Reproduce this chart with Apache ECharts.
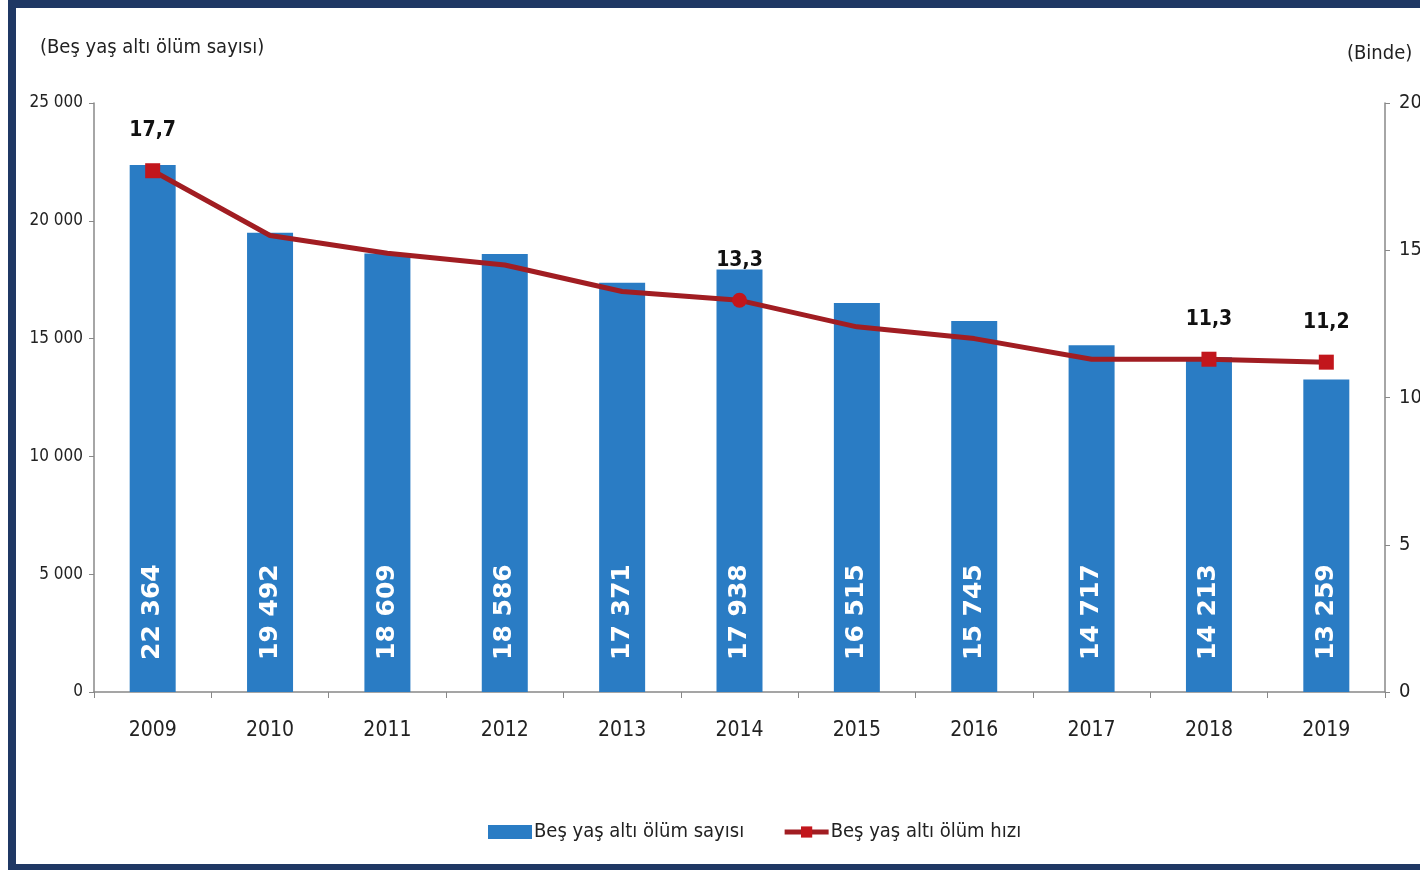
<!DOCTYPE html>
<html>
<head>
<meta charset="utf-8">
<script src="https://cdn.jsdelivr.net/npm/echarts@6/dist/echarts.min.js"></script>
<style>
html,body{margin:0;padding:0;background:#fff;}
#frame{position:absolute;left:8px;top:0;width:1412px;height:870px;box-sizing:border-box;border-left:8px solid #1f3864;border-top:8px solid #1f3864;border-bottom:6px solid #1f3864;}
#chart{position:absolute;left:0;top:0;width:1420px;height:870px;}
</style>
</head>
<body>
<div id="frame"></div>
<div id="chart"></div>
<script>
const years = ['2009','2010','2011','2012','2013','2014','2015','2016','2017','2018','2019'];
const deaths = [22364, 19492, 18609, 18586, 17371, 17938, 16515, 15745, 14717, 14213, 13259];
const rate = [17.7, 15.5, 14.9, 14.5, 13.6, 13.3, 12.4, 12.0, 11.3, 11.3, 11.2];
const labelledYears = ['2009','2014','2018','2019'];
const leftTicks = [0, 5000, 10000, 15000, 20000, 25000];
const rightTicks = [0, 5, 10, 15, 20];

const NARROW = "'Liberation Sans Narrow','DejaVu Sans Condensed','Arial Narrow',sans-serif";
const fmtSpace = v => String(v).replace(/\B(?=(\d{3})+(?!\d))/g, ' ');
const fmtComma = v => v.toFixed(1).replace('.', ',');

const lineData = rate.map((v, i) => {
  const on = labelledYears.includes(years[i]);
  return {
    value: v,
    symbol: on ? (years[i] === '2014' ? 'circle' : 'rect') : 'none',
    label: { show: on }
  };
});

const chart = echarts.init(document.getElementById('chart'));
chart.setOption({
  animation: false,
  backgroundColor: 'transparent',
  title: [
    { text: '(Beş yaş altı ölüm sayısı)', left: 35, top: 33,
      textStyle: { fontFamily: NARROW, fontSize: 20, fontWeight: 'normal', color: '#222' } },
    { text: '(Binde)', left: 1342, top: 39,
      textStyle: { fontFamily: NARROW, fontSize: 20, fontWeight: 'normal', color: '#222' } }
  ],
  legend: {
    left: 483, top: 817,
    itemWidth: 44, itemHeight: 14, itemGap: 38,
    textStyle: { fontFamily: NARROW, fontSize: 20, color: '#222', padding: [0, 0, 0, -3] },
    data: [
      { name: 'Beş yaş altı ölüm sayısı', icon: 'rect' },
      { name: 'Beş yaş altı ölüm hızı', lineStyle: { width: 5, color: '#a11d22' } }
    ]
  },
  grid: { left: 94, right: 35, top: 103, bottom: 178, containLabel: false, outerBoundsMode: 'none' },
  xAxis: {
    type: 'category', data: years,
    axisLine: { lineStyle: { color: '#888', width: 1.5 } },
    axisTick: { show: true, length: 6, lineStyle: { color: '#888' } },
    axisLabel: { fontFamily: NARROW, fontSize: 21, color: '#222', margin: 28 }
  },
  yAxis: [
    { type: 'value', min: 0, max: 25000, interval: 5000,
      splitLine: { show: false },
      axisLine: { show: true, lineStyle: { color: '#888', width: 1.5 } },
      axisTick: { show: true, length: 5, lineStyle: { color: '#888' } },
      axisLabel: { fontFamily: NARROW, fontSize: 17, color: '#222', margin: 11,
        formatter: v => leftTicks.includes(v) ? fmtSpace(v) : '' } },
    { type: 'value', min: 0, max: 20, interval: 5,
      splitLine: { show: false },
      axisLine: { show: true, lineStyle: { color: '#888', width: 1.5 } },
      axisTick: { show: true, length: 5, lineStyle: { color: '#888' } },
      axisLabel: { fontFamily: NARROW, fontSize: 20, color: '#222', margin: 14,
        formatter: v => rightTicks.includes(v) ? String(v) : '' } }
  ],
  series: [
    { name: 'Beş yaş altı ölüm sayısı', type: 'bar', data: deaths, barWidth: 46,
      itemStyle: { color: '#2a7cc4' },
      label: { show: true, position: 'insideBottom', rotate: 90, distance: 32,
        align: 'left', verticalAlign: 'middle',
        fontFamily: "'DejaVu Sans',sans-serif", fontWeight: 'bold', fontSize: 25, color: '#fff',
        formatter: p => fmtSpace(p.value) } },
    { name: 'Beş yaş altı ölüm hızı', type: 'line', yAxisIndex: 1, data: lineData,
      symbol: 'rect', symbolSize: 15,
      lineStyle: { color: '#a11d22', width: 5 },
      itemStyle: { color: '#c2161c' },
      label: { position: 'top', distance: 22, fontFamily: NARROW, fontWeight: 'bold',
        fontSize: 21, color: '#111', formatter: p => fmtComma(p.value) },
      z: 5 }
  ]
});
</script>
</body>
</html>
